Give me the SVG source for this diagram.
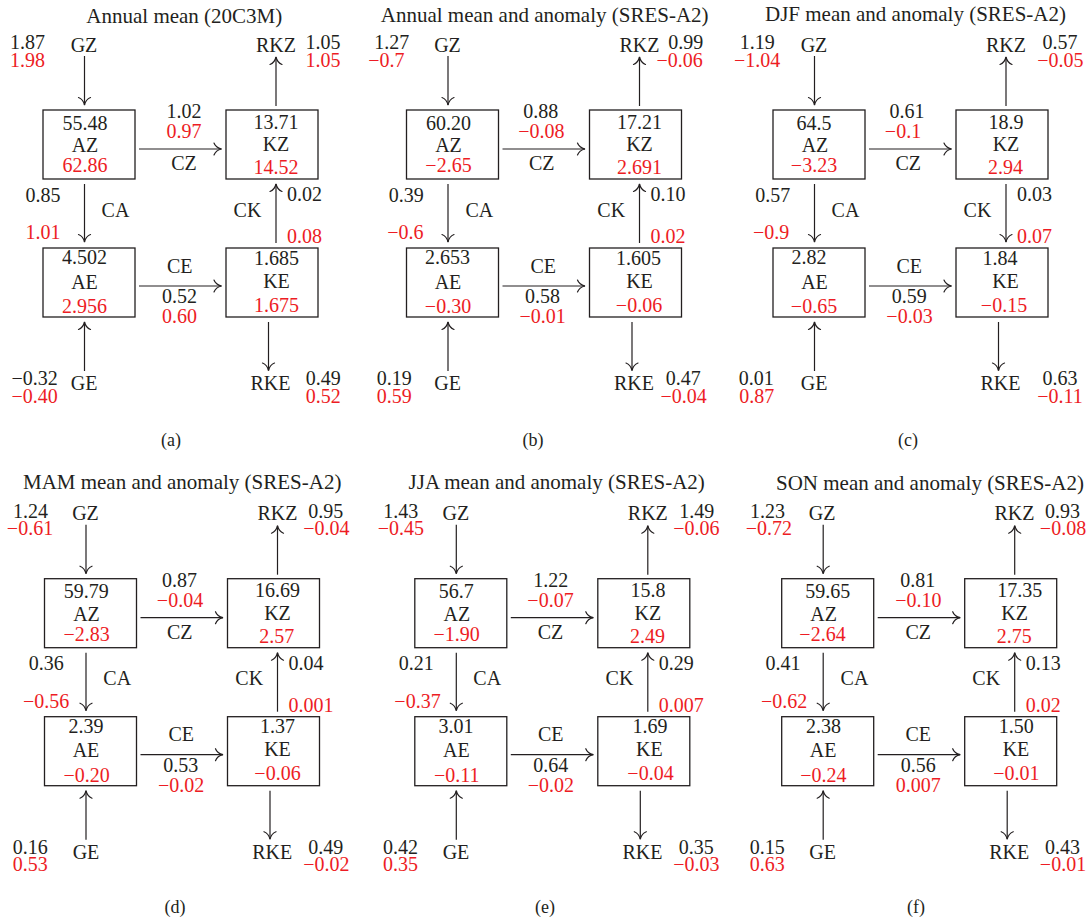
<svg xmlns="http://www.w3.org/2000/svg" width="1088" height="920" viewBox="0 0 1088 920">
<defs>
<style>
text{font-family:"Liberation Serif","Times New Roman",serif;font-size:20px;text-anchor:middle;fill:#231f20}
.r{fill:#ed1c24}
.s{text-anchor:start}
.ttl{font-size:21px}
.sub{font-size:18px}
.box{fill:none;stroke:#231f20;stroke-width:1.3}
.cn path{fill:none;stroke:#231f20;stroke-width:1.2;marker-end:url(#ah)}
</style>
<marker id="ah" viewBox="-10 -10 20 20" refX="0" refY="0" markerWidth="20" markerHeight="20" markerUnits="userSpaceOnUse" orient="auto" overflow="visible">
<path d="M-7.5,-6 C-6,-2 -2.5,-0.6 0,0 C-2.5,0.6 -6,2 -7.5,6" fill="none" stroke="#231f20" stroke-width="1.2" stroke-linecap="round"/>
</marker>
</defs>
<rect width="1088" height="920" fill="#ffffff"/>

<!-- Panel (a) -->
<g id="panel-a" transform="translate(0,0)">
<text class="ttl" x="184.3" y="23">Annual mean (20C3M)</text>
<g id="a-GZ"><text x="84" y="51.7">GZ</text></g>
<g id="a-RKZ"><text x="276" y="51.7">RKZ</text></g>
<g id="a-GE"><text x="84.2" y="390">GE</text></g>
<g id="a-RKE"><text x="270.5" y="390">RKE</text></g>
<g id="a-AZ"><rect class="box" x="43" y="110" width="92" height="69"/><text x="85" y="129.5">55.48</text><text x="85" y="152">AZ</text><text class="r" x="85" y="172">62.86</text></g>
<g id="a-KZ"><rect class="box" x="226" y="110" width="92" height="69"/><text x="276" y="128.5">13.71</text><text x="276" y="151">KZ</text><text class="r" x="276" y="174">14.52</text></g>
<g id="a-AE"><rect class="box" x="43" y="248" width="92" height="69"/><text x="84.5" y="264">4.502</text><text x="84.5" y="288.5">AE</text><text class="r" x="84.5" y="313">2.956</text></g>
<g id="a-KE"><rect class="box" x="226" y="248" width="92" height="69"/><text x="276.5" y="264.5">1.685</text><text x="276.5" y="287.5">KE</text><text class="r" x="276.5" y="311.5">1.675</text></g>
<g id="a-connectors" class="cn">
<path d="M84.5,56 V105"/><path d="M84.5,184 V242"/><path d="M84.5,371 V322"/>
<path d="M139,149 H221.5"/><path d="M139,286 H221.5"/>
<path d="M276,106 V57"/><path d="M276,243 V184"/><path d="M268.5,322 V370.5"/>
</g>
<g id="a-labels">
<text x="27.5" y="49.3">1.87</text><text class="r" x="27.5" y="66.7">1.98</text>
<text x="323" y="49.3">1.05</text><text class="r" x="323" y="66.7">1.05</text>
<text x="184" y="118.3">1.02</text><text class="r" x="184" y="138.3">0.97</text><text x="184" y="170">CZ</text>
<text x="43" y="201.7">0.85</text><text class="r" x="43" y="239.3">1.01</text><text x="115.5" y="216.7">CA</text>
<text x="247.5" y="216.7">CK</text><text class="s" x="287" y="201">0.02</text><text class="r s" x="287" y="243.3">0.08</text>
<text x="179.7" y="272.7">CE</text><text x="179.5" y="303.3">0.52</text><text class="r" x="179.5" y="323.3">0.60</text>
<text x="34.7" y="385">−0.32</text><text class="r" x="34.7" y="402.7">−0.40</text>
<text x="323.3" y="385">0.49</text><text class="r" x="323.3" y="402.7">0.52</text>
</g>
<text class="sub" x="171" y="446">(a)</text>
</g>

<!-- Panel (b) -->
<g id="panel-b" transform="translate(363.5,0)">
<text class="ttl" x="181.2" y="22">Annual mean and anomaly (SRES-A2)</text>
<g id="b-GZ"><text x="84" y="51.7">GZ</text></g>
<g id="b-RKZ"><text x="276" y="51.7">RKZ</text></g>
<g id="b-GE"><text x="84.2" y="390">GE</text></g>
<g id="b-RKE"><text x="270.5" y="390">RKE</text></g>
<g id="b-AZ"><rect class="box" x="43" y="110" width="92" height="69"/><text x="85" y="129.5">60.20</text><text x="85" y="152">AZ</text><text class="r" x="85" y="172">−2.65</text></g>
<g id="b-KZ"><rect class="box" x="226" y="110" width="92" height="69"/><text x="276" y="128.5">17.21</text><text x="276" y="151">KZ</text><text class="r" x="276" y="174">2.691</text></g>
<g id="b-AE"><rect class="box" x="43" y="248" width="92" height="69"/><text x="84" y="264">2.653</text><text x="84.5" y="288.5">AE</text><text class="r" x="84.5" y="313">−0.30</text></g>
<g id="b-KE"><rect class="box" x="226" y="248" width="92" height="69"/><text x="275" y="264.5">1.605</text><text x="276" y="287.5">KE</text><text class="r" x="275.5" y="311.5">−0.06</text></g>
<g id="b-connectors" class="cn">
<path d="M84.5,56 V105"/><path d="M84.5,184 V242"/><path d="M84.5,371 V322"/>
<path d="M139,149 H221.5"/><path d="M139,286 H221.5"/>
<path d="M276,106 V57"/><path d="M276,243 V184"/><path d="M268.5,322 V370.5"/>
</g>
<g id="b-labels">
<text x="28.2" y="49.3">1.27</text><text class="r" x="22.8" y="66.7">−0.7</text>
<text x="322.3" y="49.3">0.99</text><text class="r" x="316.2" y="66.7">−0.06</text>
<text x="177.3" y="118.3">0.88</text><text class="r" x="177.8" y="138.3">−0.08</text><text x="178.2" y="170">CZ</text>
<text x="42.8" y="201.7">0.39</text><text class="r" x="41.8" y="239.3">−0.6</text><text x="115.8" y="216.7">CA</text>
<text x="247.7" y="216.7">CK</text><text class="s" x="287" y="201">0.10</text><text class="r s" x="287" y="243.3">0.02</text>
<text x="179.8" y="272.7">CE</text><text x="179" y="303.3">0.58</text><text class="r" x="179.2" y="323.3">−0.01</text>
<text x="30.7" y="385">0.19</text><text class="r" x="30.7" y="402.7">0.59</text>
<text x="319.8" y="385">0.47</text><text class="r" x="320.2" y="402.7">−0.04</text>
</g>
<text class="sub" x="169.5" y="446">(b)</text>
</g>

<!-- Panel (c) -->
<g id="panel-c" transform="translate(730,0)">
<text class="ttl" x="185.5" y="21">DJF mean and anomaly (SRES-A2)</text>
<g id="c-GZ"><text x="84" y="51.7">GZ</text></g>
<g id="c-RKZ"><text x="276" y="51.7">RKZ</text></g>
<g id="c-GE"><text x="84.2" y="390">GE</text></g>
<g id="c-RKE"><text x="270.5" y="390">RKE</text></g>
<g id="c-AZ"><rect class="box" x="43" y="110" width="92" height="69"/><text x="84" y="129.5">64.5</text><text x="85" y="152">AZ</text><text class="r" x="84" y="172">−3.23</text></g>
<g id="c-KZ"><rect class="box" x="226" y="110" width="92" height="69"/><text x="276" y="128.5">18.9</text><text x="276" y="151">KZ</text><text class="r" x="275.5" y="174">2.94</text></g>
<g id="c-AE"><rect class="box" x="43" y="248" width="92" height="69"/><text x="79" y="264">2.82</text><text x="84.5" y="288.5">AE</text><text class="r" x="84" y="313">−0.65</text></g>
<g id="c-KE"><rect class="box" x="226" y="248" width="92" height="69"/><text x="270" y="264.5">1.84</text><text x="275.5" y="287.5">KE</text><text class="r" x="274" y="311.5">−0.15</text></g>
<g id="c-connectors" class="cn">
<path d="M84.5,56 V105"/><path d="M84.5,184 V242"/><path d="M84.5,371 V322"/>
<path d="M139,149 H221.5"/><path d="M139,286 H221.5"/>
<path d="M276,106 V57"/><path d="M276,184 V242"/><path d="M268.5,322 V370.5"/>
</g>
<g id="c-labels">
<text x="27.2" y="49.3">1.19</text><text class="r" x="27.2" y="66.7">−1.04</text>
<text x="330" y="49.3">0.57</text><text class="r" x="330.3" y="66.7">−0.05</text>
<text x="177" y="118.3">0.61</text><text class="r" x="173" y="138.3">−0.1</text><text x="178.3" y="170">CZ</text>
<text x="42.8" y="201.7">0.57</text><text class="r" x="41.2" y="239.3">−0.9</text><text x="115.5" y="216.7">CA</text>
<text x="247.5" y="216.7">CK</text><text class="s" x="287" y="201">0.03</text><text class="r s" x="287" y="243.3">0.07</text>
<text x="179.3" y="272.7">CE</text><text x="179.2" y="303.3">0.59</text><text class="r" x="179.5" y="323.3">−0.03</text>
<text x="26.3" y="385">0.01</text><text class="r" x="26.7" y="402.7">0.87</text>
<text x="330" y="385">0.63</text><text class="r" x="330" y="402.7">−0.11</text>
</g>
<text class="sub" x="178" y="446">(c)</text>
</g>

<!-- Panel (d) -->
<g id="panel-d" transform="translate(1.5,468.7)">
<text class="ttl" x="180.7" y="20.6">MAM mean and anomaly (SRES-A2)</text>
<g id="d-GZ"><text x="84" y="51.7">GZ</text></g>
<g id="d-RKZ"><text x="276" y="51.7">RKZ</text></g>
<g id="d-GE"><text x="84.5" y="390">GE</text></g>
<g id="d-RKE"><text x="270.7" y="390">RKE</text></g>
<g id="d-AZ"><rect class="box" x="43" y="110" width="92" height="69"/><text x="84.7" y="129.5">59.79</text><text x="85" y="152">AZ</text><text class="r" x="85.2" y="172">−2.83</text></g>
<g id="d-KZ"><rect class="box" x="226" y="110" width="92" height="69"/><text x="276" y="128.5">16.69</text><text x="276" y="151">KZ</text><text class="r" x="275.2" y="174">2.57</text></g>
<g id="d-AE"><rect class="box" x="43" y="248" width="92" height="69"/><text x="84.5" y="264">2.39</text><text x="84.5" y="288.5">AE</text><text class="r" x="85.2" y="313">−0.20</text></g>
<g id="d-KE"><rect class="box" x="226" y="248" width="92" height="69"/><text x="276" y="264.5">1.37</text><text x="276" y="287.5">KE</text><text class="r" x="276" y="311.5">−0.06</text></g>
<g id="d-connectors" class="cn">
<path d="M84.5,56 V105"/><path d="M84.5,184 V242"/><path d="M84.5,371 V322"/>
<path d="M139,149 H221.5"/><path d="M139,286 H221.5"/>
<path d="M276,106 V57"/><path d="M276,243 V184"/><path d="M268.5,322 V370.5"/>
</g>
<g id="d-labels">
<text x="29" y="49.3">1.24</text><text class="r" x="28.5" y="66.7">−0.61</text>
<text x="324.3" y="49.3">0.95</text><text class="r" x="324.8" y="66.7">−0.04</text>
<text x="178" y="118.3">0.87</text><text class="r" x="178.5" y="138.3">−0.04</text><text x="178.2" y="170">CZ</text>
<text x="44.8" y="201.7">0.36</text><text class="r" x="44.7" y="239.3">−0.56</text><text x="115.7" y="216.7">CA</text>
<text x="247.7" y="216.7">CK</text><text class="s" x="287" y="201">0.04</text><text class="r s" x="287" y="243.3">0.001</text>
<text x="179.7" y="272.7">CE</text><text x="179.3" y="303.3">0.53</text><text class="r" x="179.7" y="323.3">−0.02</text>
<text x="28.7" y="385">0.16</text><text class="r" x="28.7" y="402.7">0.53</text>
<text x="324.3" y="385">0.49</text><text class="r" x="324.8" y="402.7">−0.02</text>
</g>
<text class="sub" x="173.5" y="444">(d)</text>
</g>

<!-- Panel (e) -->
<g id="panel-e" transform="translate(371.8,468.7)">
<text class="ttl" x="184.9" y="20.6">JJA mean and anomaly (SRES-A2)</text>
<g id="e-GZ"><text x="84" y="51.7">GZ</text></g>
<g id="e-RKZ"><text x="276" y="51.7">RKZ</text></g>
<g id="e-GE"><text x="84.2" y="390">GE</text></g>
<g id="e-RKE"><text x="270.7" y="390">RKE</text></g>
<g id="e-AZ"><rect class="box" x="43" y="110" width="92" height="69"/><text x="84.4" y="129.5">56.7</text><text x="85" y="152">AZ</text><text class="r" x="84.9" y="172">−1.90</text></g>
<g id="e-KZ"><rect class="box" x="226" y="110" width="92" height="69"/><text x="276.2" y="128.5">15.8</text><text x="276" y="151">KZ</text><text class="r" x="275.7" y="174">2.49</text></g>
<g id="e-AE"><rect class="box" x="43" y="248" width="92" height="69"/><text x="84.2" y="264">3.01</text><text x="84.5" y="288.5">AE</text><text class="r" x="84.9" y="313">−0.11</text></g>
<g id="e-KE"><rect class="box" x="226" y="248" width="92" height="69"/><text x="278.2" y="264.5">1.69</text><text x="277.5" y="287.5">KE</text><text class="r" x="278.7" y="311.5">−0.04</text></g>
<g id="e-connectors" class="cn">
<path d="M84.5,56 V105"/><path d="M84.5,184 V242"/><path d="M84.5,371 V322"/>
<path d="M139,149 H221.5"/><path d="M139,286 H221.5"/>
<path d="M276,106 V57"/><path d="M276,243 V184"/><path d="M268.5,322 V370.5"/>
</g>
<g id="e-labels">
<text x="29" y="49.3">1.43</text><text class="r" x="29" y="66.7">−0.45</text>
<text x="324.9" y="49.3">1.49</text><text class="r" x="324.5" y="66.7">−0.06</text>
<text x="178.9" y="118.3">1.22</text><text class="r" x="178.7" y="138.3">−0.07</text><text x="178.7" y="170">CZ</text>
<text x="44.5" y="201.7">0.21</text><text class="r" x="45.7" y="239.3">−0.37</text><text x="115.4" y="216.7">CA</text>
<text x="247.7" y="216.7">CK</text><text class="s" x="287" y="201">0.29</text><text class="r s" x="287" y="243.3">0.007</text>
<text x="179" y="272.7">CE</text><text x="179" y="303.3">0.64</text><text class="r" x="179" y="323.3">−0.02</text>
<text x="28.7" y="385">0.42</text><text class="r" x="28.7" y="402.7">0.35</text>
<text x="324.5" y="385">0.35</text><text class="r" x="324.5" y="402.7">−0.03</text>
</g>
<text class="sub" x="173.2" y="444">(e)</text>
</g>

<!-- Panel (f) -->
<g id="panel-f" transform="translate(738.7,468.7)">
<text class="ttl" x="191.3" y="21.3">SON mean and anomaly (SRES-A2)</text>
<g id="f-GZ"><text x="83.5" y="51.7">GZ</text></g>
<g id="f-RKZ"><text x="275.8" y="51.7">RKZ</text></g>
<g id="f-GE"><text x="84" y="390">GE</text></g>
<g id="f-RKE"><text x="270.5" y="390">RKE</text></g>
<g id="f-AZ"><rect class="box" x="43" y="110" width="92" height="69"/><text x="89" y="129.5">59.65</text><text x="85" y="152">AZ</text><text class="r" x="83.8" y="172">−2.64</text></g>
<g id="f-KZ"><rect class="box" x="226" y="110" width="92" height="69"/><text x="281" y="128.5">17.35</text><text x="276" y="151">KZ</text><text class="r" x="275.5" y="174">2.75</text></g>
<g id="f-AE"><rect class="box" x="43" y="248" width="92" height="69"/><text x="84.7" y="264">2.38</text><text x="84.5" y="288.5">AE</text><text class="r" x="84.6" y="313">−0.24</text></g>
<g id="f-KE"><rect class="box" x="226" y="248" width="92" height="69"/><text x="277.6" y="264.5">1.50</text><text x="277.3" y="287.5">KE</text><text class="r" x="277.6" y="311.5">−0.01</text></g>
<g id="f-connectors" class="cn">
<path d="M84.5,56 V105"/><path d="M84.5,184 V242"/><path d="M84.5,371 V322"/>
<path d="M139,149 H221.5"/><path d="M139,286 H221.5"/>
<path d="M276,106 V57"/><path d="M276,243 V184"/><path d="M268.5,322 V370.5"/>
</g>
<g id="f-labels">
<text x="28.8" y="49.3">1.23</text><text class="r" x="30.1" y="66.7">−0.72</text>
<text x="323.8" y="49.3">0.93</text><text class="r" x="324.3" y="66.7">−0.08</text>
<text x="179.1" y="118.3">0.81</text><text class="r" x="179.6" y="138.3">−0.10</text><text x="179.6" y="170">CZ</text>
<text x="44.3" y="201.7">0.41</text><text class="r" x="45.5" y="239.3">−0.62</text><text x="115.8" y="216.7">CA</text>
<text x="247.5" y="216.7">CK</text><text class="s" x="287" y="201">0.13</text><text class="r s" x="287" y="243.3">0.02</text>
<text x="179.6" y="272.7">CE</text><text x="179.5" y="303.3">0.56</text><text class="r" x="179.5" y="323.3">0.007</text>
<text x="28.5" y="385">0.15</text><text class="r" x="28.5" y="402.7">0.63</text>
<text x="323.8" y="385">0.43</text><text class="r" x="324.3" y="402.7">−0.01</text>
</g>
<text class="sub" x="177.3" y="444">(f)</text>
</g>
</svg>
